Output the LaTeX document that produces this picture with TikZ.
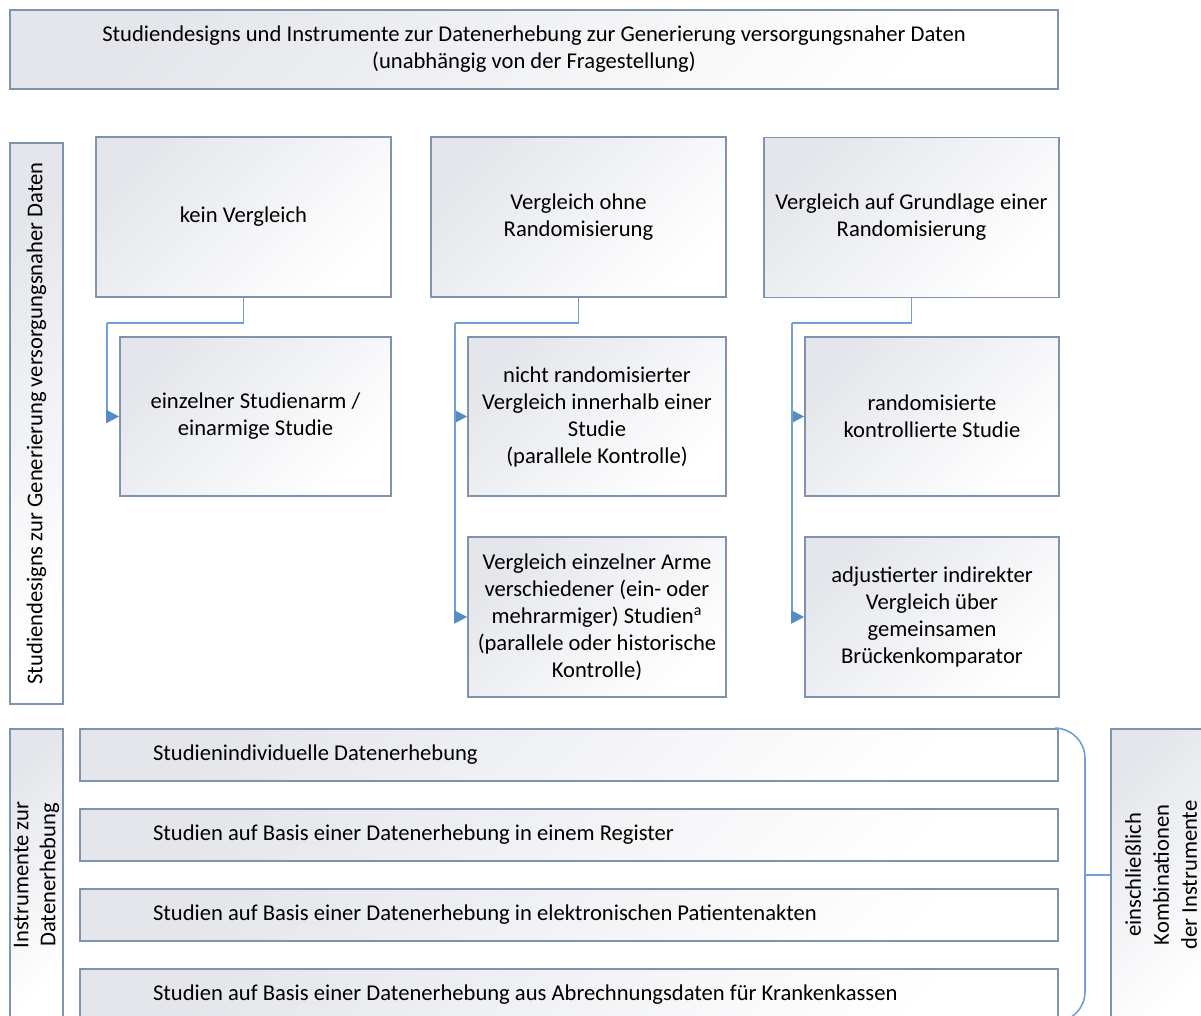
\documentclass[tikz,border=0pt]{standalone}
\usepackage{fontspec}
\setmainfont{Carlito}
\usetikzlibrary{arrows.meta}

\definecolor{boxline}{RGB}{126,148,174}
\definecolor{linkline}{RGB}{112,160,214}
\definecolor{tipblue}{RGB}{84,140,200}
\definecolor{boxshade}{RGB}{228,230,235}

\begin{document}
\begin{tikzpicture}[x=0.5pt,y=-0.5pt,
  box/.style={draw=boxline, line width=0.8pt, top color=boxshade, bottom color=white,
    shading angle=45, align=center, inner sep=2pt, font=\fontsize{11.3}{13.5}\selectfont},
  bar/.style={box, minimum width=489pt, minimum height=26pt, text width=416pt,
    inner xsep=36.5pt, align=flush left},
  link/.style={draw=linkline, line width=0.8pt},
  pfeil/.style={link, -{Triangle[length=6.5pt, width=6.5pt, color=tipblue]}}]
\useasboundingbox (0,0) rectangle (1201,1016);
\clip (0,0) rectangle (1201,1016);

\node[box, minimum width=524pt, minimum height=39.5pt] (titel) at (534,49.5)
  {Studiendesigns und Instrumente zur Datenerhebung zur Generierung versorgungsnaher Daten\\(unabhängig von der Fragestellung)};

% Studiendesigns
\node[box, rotate=90, minimum width=280.5pt, minimum height=26.5pt] (designs) at (36.5,423.5)
  {Studiendesigns zur Generierung versorgungsnaher Daten};

\node[box, minimum width=147.5pt, minimum height=80pt] (kein) at (243.5,217) {kein Vergleich};
\node[box, minimum width=147.5pt, minimum height=80pt] (ohne) at (578.5,217)
  {Vergleich ohne\\Randomisierung};
\node[box, minimum width=147.5pt, minimum height=80pt] (mit) at (911.5,217.5)
  {Vergleich auf Grundlage einer\\Randomisierung};

\node[box, minimum width=135.5pt, minimum height=79.5pt] (einzeln) at (255.5,416.5)
  {einzelner Studienarm /\\einarmige Studie};
\node[box, minimum width=129pt, minimum height=79.5pt] (nichtrand) at (597,416.5)
  {nicht randomisierter\\Vergleich innerhalb einer\\Studie\\(parallele Kontrolle)};
\node[box, minimum width=129pt, minimum height=80pt] (arme) at (597,617)
  {Vergleich einzelner Arme\\verschiedener (ein- oder\\mehrarmiger) Studien\textsuperscript{a}\\(parallele oder historische\\Kontrolle)};
\node[box, minimum width=127pt, minimum height=79.5pt] (rct) at (932,416.5)
  {randomisierte\\kontrollierte Studie};
\node[box, minimum width=127pt, minimum height=80pt] (adjust) at (932,617)
  {adjustierter indirekter\\Vergleich über\\gemeinsamen\\Brückenkomparator};

\coordinate (j1) at (107,323);
\coordinate (j2) at (455,323);
\coordinate (j3) at (792,323);

\draw[link] (kein.south) |- (j1);
\draw[pfeil] (j1) |- (einzeln.west);
\draw[link] (ohne.south) |- (j2);
\draw[pfeil] (j2) |- (nichtrand.west);
\draw[pfeil] (j2) |- (arme.west);
\draw[link] (mit.south) |- (j3);
\draw[pfeil] (j3) |- (rct.west);
\draw[pfeil] (j3) |- (adjust.west);

% Instrumente
\node[box, rotate=90, minimum width=146pt, minimum height=26.5pt] (instr) at (36.5,875)
  {Instrumente zur\\Datenerhebung};

\node[bar] (bar1) at (569,755) {Studienindividuelle Datenerhebung};
\node[bar] (bar2) at (569,835) {Studien auf Basis einer Datenerhebung in einem Register};
\node[bar] (bar3) at (569,915) {Studien auf Basis einer Datenerhebung in elektronischen Patientenakten};
\node[bar] (bar4) at (569,995) {Studien auf Basis einer Datenerhebung aus Abrechnungsdaten für Krankenkassen};

\node[box, rotate=90, minimum width=146pt, minimum height=50pt,
  font=\fontsize{11.3}{14}\selectfont] (kombi) at (1161,875)
  {einschließlich\\Kombinationen\\der Instrumente};

\coordinate (klammer) at (1085,875);
\draw[link, rounded corners=15pt] (bar1.north east) -| (klammer) |- (bar4.south east);
\draw[link] (klammer) -- (kombi);
\end{tikzpicture}
\end{document}
